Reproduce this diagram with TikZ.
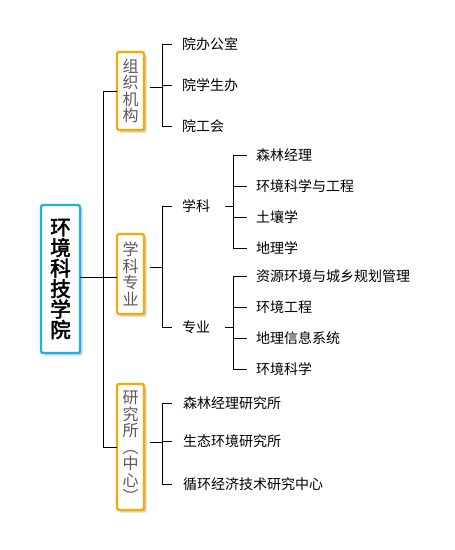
\documentclass[tikz,border=0pt]{standalone}
\usepackage{fontspec}
\usetikzlibrary{positioning,calc,shadows}
\newfontfamily\cjk{Noto Sans CJK SC}
\newfontfamily\cjkbf[FakeBold=2.5]{Noto Sans CJK SC}
\definecolor{mycyan}{RGB}{27,178,232}
\definecolor{myorange}{RGB}{248,170,0}
\definecolor{mygray}{RGB}{90,90,90}
\begin{document}
\begin{tikzpicture}[x=1pt,y=-1pt,outer sep=0pt,line width=1pt,
		rootb/.style={
		  draw=mycyan,
		  line width=2.4pt,
		  fill=white,
		  rounded corners=1.5pt,
		  drop shadow={shadow xshift=2.5pt,shadow yshift=-2.5pt,fill=black!35},
		  minimum width=39pt,
		  minimum height=148pt,
		  align=center,
		  font={\cjkbf\fontsize{20.5}{20.5}\selectfont}},
		orgb/.style={rootb,draw=myorange,
		  minimum width=27pt,
		  text=mygray,
		  font={\cjk\fontsize{16}{16.5}\selectfont}},
		leaf/.style={anchor=west,inner sep=3pt,
		  font={\cjk\fontsize{14}{14}\selectfont}},
		]
		\useasboundingbox (0,0) rectangle (455,550);
		\node[rootb] (Yuan) at (60.5,279) {环\\境\\科\\技\\学\\院};
		\node[orgb,minimum height=78pt] (ZZJG) at (130.5,91) {组\\织\\机\\构};
		\node[orgb,minimum height=80pt] (XKZY) at (130.5,274) {学\\科\\专\\业};
		\node[orgb,minimum height=126pt] (YJS) at (130.5,447) {研\\究\\所\\︵\\中\\心\\︶};
		% first level
		\coordinate (trunk) at (103,277);
		\draw (Yuan.east |- trunk) -- (trunk);
		\draw (ZZJG.west) -- (ZZJG.west -| trunk) |- (YJS.west);
		\draw (XKZY.west |- trunk) -- (trunk);
		% zuzhi jigou
		\coordinate (fZZ) at (162,87);
		\node[leaf] (BGS) at (179,44) {院办公室};
		\node[leaf] (XSB) at (179,85) {院学生办};
		\node[leaf] (GH) at (179,126) {院工会};
		\draw ([xshift=6pt]ZZJG.east |- fZZ) -- (fZZ);
		\foreach \n in {BGS,XSB,GH}
		  \draw (fZZ) |- ([xshift=-7pt]\n.west);
		% xueke zhuanye
		\coordinate (fXZ) at (162,267);
		\node[leaf] (XK) at (179,206) {学科};
		\node[leaf] (ZY) at (179,327) {专业};
		\draw ([xshift=6pt]XKZY.east |- fXZ) -- (fXZ);
		\foreach \n in {XK,ZY}
		  \draw (fXZ) |- ([xshift=-7pt]\n.west);
		\coordinate (fXK) at (233,206);
		\node[leaf] (SLJL) at (253,155) {森林经理};
		\node[leaf] (HJKXGC) at (253,186) {环境科学与工程};
		\node[leaf] (TRX) at (253,217) {土壤学};
		\node[leaf] (DLX) at (253,248) {地理学};
		\draw ([xshift=12pt]XK.east) -- (fXK);
		\foreach \n in {SLJL,HJKXGC,TRX,DLX}
		  \draw (fXK) |- ([xshift=-6pt]\n.west);
		\coordinate (fZY) at (233,327);
		\node[leaf] (ZYHJ) at (253,276) {资源环境与城乡规划管理};
		\node[leaf] (HJGC) at (253,307) {环境工程};
		\node[leaf] (DLXX) at (253,338) {地理信息系统};
		\node[leaf] (HJKX) at (253,369) {环境科学};
		\draw ([xshift=12pt]ZY.east) -- (fZY);
		\foreach \n in {ZYHJ,HJGC,DLXX,HJKX}
		  \draw (fZY) |- ([xshift=-6pt]\n.west);
		% yanjiusuo
		\coordinate (fYJ) at (162,442);
		\node[leaf] (SLYJ) at (180,403) {森林经理研究所};
		\node[leaf] (STYJ) at (180,441) {生态环境研究所};
		\node[leaf] (XHJJ) at (180,484) {循环经济技术研究中心};
		\draw ([xshift=6pt]YJS.east |- fYJ) -- (fYJ);
		\foreach \n in {SLYJ,STYJ,XHJJ}
		  \draw (fYJ) |- ([xshift=-8pt]\n.west);
\end{tikzpicture}
\end{document}
